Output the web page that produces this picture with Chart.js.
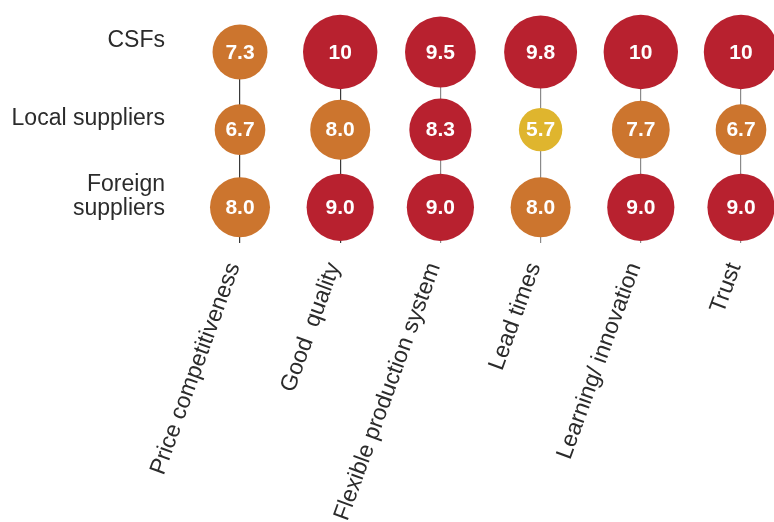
<!DOCTYPE html>
<html>
<head>
<meta charset="utf-8">
<script src="https://cdn.jsdelivr.net/npm/chart.js@4"></script>
<style>
  html, body { margin: 0; padding: 0; background: #fff; }
  #wrap { width: 774px; height: 522px; }
</style>
</head>
<body>
<div id="wrap"><canvas id="chart"></canvas></div>
<script>
const categories = ['Price competitiveness', 'Good  quality', 'Flexible production system', 'Lead times', 'Learning/ innovation', 'Trust'];
const rowLabels = ['CSFs', 'Local suppliers', ['Foreign', 'suppliers']];
const csfs = [7.3, 10, 9.5, 9.8, 10, 10];
const localSuppliers = [6.7, 8.0, 8.3, 5.7, 7.7, 6.7];
const foreignSuppliers = [8.0, 9.0, 9.0, 8.0, 9.0, 9.0];

const FONT = '"Liberation Sans", Arial, Helvetica, sans-serif';

// couleur selon la note
const colorFor = (v) => v > 8 ? '#b8212f' : (v >= 6 ? '#cc752e' : '#dfb52e');
const radiusFor = (v) => 3.6 * v + 1.2;
const fmt = (v) => v === 10 ? '10' : v.toFixed(1);

const rows = [csfs, localSuppliers, foreignSuppliers];
const datasets = rows.map((vals, r) => ({
  label: Array.isArray(rowLabels[r]) ? rowLabels[r].join(' ') : rowLabels[r],
  data: vals.map((v, i) => ({ x: i, y: r, v: v })),
  backgroundColor: (ctx) => colorFor(ctx.raw.v),
  radius: (ctx) => radiusFor(ctx.raw.v),
  borderWidth: 0,
  clip: false
}));

// Valeurs dans les bulles
const bubbleText = {
  id: 'bubbleText',
  afterDatasetsDraw(chart) {
    const ctx = chart.ctx;
    ctx.save();
    ctx.fillStyle = '#ffffff';
    ctx.font = 'bold 21px ' + FONT;
    ctx.textAlign = 'center';
    ctx.textBaseline = 'middle';
    chart.data.datasets.forEach((ds, di) => {
      chart.getDatasetMeta(di).data.forEach((el, i) => {
        ctx.fillText(fmt(ds.data[i].v), el.x, el.y + 1);
      });
    });
    ctx.restore();
  }
};

new Chart(document.getElementById('chart'), {
  type: 'bubble',
  data: { datasets: datasets },
  plugins: [bubbleText],
  options: {
    responsive: true,
    maintainAspectRatio: false,
    animation: false,
    events: [],
    layout: { autoPadding: false, padding: { top: 52, right: 33, left: 0, bottom: 0 } },
    plugins: { legend: { display: false }, tooltip: { enabled: false } },
    scales: {
      x: {
        type: 'linear',
        min: 0,
        max: categories.length - 1,
        afterBuildTicks: (s) => { s.ticks = categories.map((_, i) => ({ value: i })); },
        afterFit: (s) => { s.height = 279; s.paddingLeft = 0; s.paddingRight = 0; },
        border: { display: false },
        grid: {
          drawTicks: false,
          lineWidth: 1.2,
          color: (ctx) => ctx.index < 2 ? '#3a3a3a' : '#8a8a8a'
        },
        ticks: {
          autoSkip: false,
          minRotation: 70,
          maxRotation: 70,
          padding: 16,
          labelOffset: -6,
          color: '#2b2b2b',
          font: { family: FONT, size: 23 },
          callback: (v) => categories[v]
        }
      },
      y: {
        type: 'linear',
        reverse: true,
        min: 0,
        max: 2.46,
        afterBuildTicks: (s) => { s.ticks = rowLabels.map((_, i) => ({ value: i })); },
        afterFit: (s) => { s.width = 240; s.paddingTop = 0; s.paddingBottom = 0; },
        border: { display: false },
        grid: { display: false },
        ticks: {
          padding: 67,
          labelOffset: -11,
          color: '#2b2b2b',
          font: { family: FONT, size: 23, lineHeight: 1.05 },
          callback: (v) => rowLabels[v]
        }
      }
    }
  }
});
</script>
</body>
</html>
